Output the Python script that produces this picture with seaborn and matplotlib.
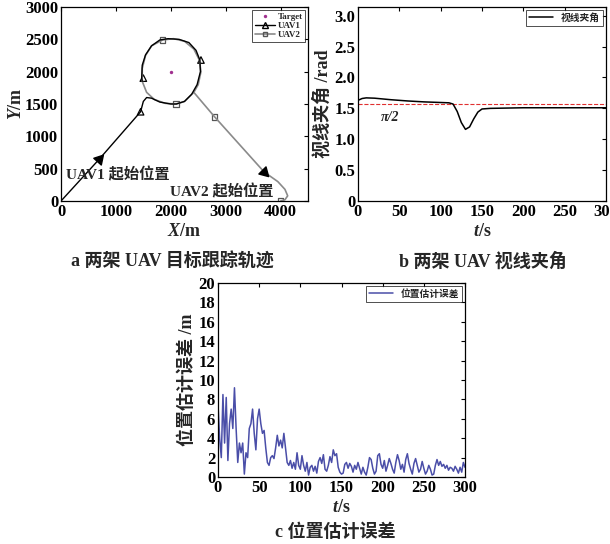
import numpy as np
import pandas as pd
import seaborn as sns
import matplotlib
matplotlib.use('Agg')
import matplotlib.pyplot as plt

# --- data ---
target_x = [2000]
target_y = [2000]

# UAV1 path (black), start at origin, orbit the target
uav1_x = [0, 700, 1450, 1500, 1560, 1650, 1800, 2000, 2100, 2250, 2380, 2480, 2540,
          2530, 2460, 2330, 2150, 1950, 1800, 1650, 1540, 1480, 1470, 1480]
uav1_y = [0, 650, 1380, 1540, 1600, 1590, 1530, 1500, 1500, 1540, 1650, 1800, 2000,
          2180, 2330, 2450, 2500, 2510, 2490, 2400, 2260, 2100, 1900, 1850]
uav1_mark_x = [1450, 1500, 2550]
uav1_mark_y = [1380, 1900, 2180]

# UAV2 path (grey), start at (4000, 0)
uav2_x = [4000, 4080, 4130, 4080, 3950, 3700, 2800, 2450, 2420, 2250, 2100, 1900, 1700,
          1560, 1480, 1480, 1540, 1650, 1850, 2050, 2250, 2420, 2520, 2550, 2500, 2420]
uav2_y = [0, 20, 80, 180, 300, 450, 1300, 1650, 1680, 1540, 1500, 1510, 1570,
          1680, 1850, 2050, 2250, 2400, 2490, 2510, 2470, 2350, 2180, 2000, 1800, 1680]
uav2_mark_x = [4000, 2800, 2100, 1850]
uav2_mark_y = [0, 1300, 1500, 2490]

# direction arrows on the approach legs
arrow_x = [700, 3700]
arrow_y = [650, 450]
arrow_angle = [-42, -135]

# line-of-sight angle between the two UAVs
t_los = [0, 5, 10, 20, 40, 60, 80, 100, 110, 115, 120, 125, 130, 135, 140, 145, 150,
         160, 200, 250, 300]
los = [1.63, 1.66, 1.67, 1.665, 1.64, 1.62, 1.605, 1.595, 1.59, 1.57, 1.45, 1.27, 1.16,
       1.20, 1.33, 1.44, 1.49, 1.50, 1.51, 1.51, 1.51]

# position estimate error, every 2 s
t_err = list(range(0, 301, 2))
err = [7.5, 4.0, 2.0, 8.5, 3.5, 8.2, 1.7, 5.5, 7.0, 5.0, 9.2, 5.0, 1.5, 3.5, 2.5, 3.5,
       0.3, 2.5, 2.0, 5.0, 5.5, 7.0, 4.5, 2.8, 6.0, 7.0, 5.5, 4.5, 4.8, 3.0, 1.5, 1.2,
       2.0, 2.2, 1.9, 3.0, 4.3, 3.2, 3.8, 3.0, 4.5, 3.0, 1.5, 1.2, 1.7, 0.9, 1.5, 0.8,
       2.5, 1.2, 0.8, 2.2, 1.2, 0.6, 1.5, 0.2, 1.0, 1.2, 0.6, 1.1, 0.4, 1.6, 2.0, 1.4,
       2.3, 0.8, 0.6, 1.2, 2.1, 1.5, 2.8, 2.2, 2.4, 1.0, 0.5, 0.3, 0.4, 1.3, 1.5, 0.9,
       1.4, 1.1, 0.5, 1.2, 0.8, 1.5, 0.9, 0.3, 1.0, 0.5, 0.2, 1.0, 2.0, 1.8, 0.9, 0.3,
       0.6, 2.2, 2.4, 1.3, 0.9, 1.7, 0.6, 1.2, 1.9, 1.4, 0.8, 0.4, 1.5, 2.3, 1.7, 0.8,
       1.3, 0.5, 1.8, 2.4, 1.4, 0.8, 0.3, 1.4, 1.9, 1.2, 0.5, 0.8, 1.6, 0.9, 0.3, 0.6,
       1.2, 0.8, 0.2, 0.3, 1.2, 1.8, 1.2, 1.6, 1.1, 1.3, 0.9, 1.2, 0.7, 1.0, 0.9, 0.6,
       1.1, 0.8, 0.4, 1.0, 0.5, 1.5, 1.0]

sns.set_style("white")
plt.rcParams['font.family'] = ['Liberation Serif', 'Noto Sans CJK SC']
plt.rcParams['font.weight'] = 'bold'
plt.rcParams['axes.labelweight'] = 'bold'
plt.rcParams['mathtext.fontset'] = 'custom'
plt.rcParams['mathtext.it'] = 'Liberation Serif:italic:bold'
plt.rcParams['mathtext.rm'] = 'Liberation Serif:bold'
plt.rcParams['axes.unicode_minus'] = False

W, H = 610, 544
fig = plt.figure(figsize=(W / 100, H / 100), dpi=100)

def box(l, t, r, b):
    return [l / W, (H - b) / H, (r - l) / W, (b - t) / H]

def style(ax):
    for s in ax.spines.values():
        s.set_color('black')
        s.set_linewidth(0.9)
        s.set_visible(True)
    ax.tick_params(direction='in', length=3, width=0.8, top=True, right=True,
                   labelsize=12, pad=2, colors='black')

# ---- a: trajectories ----
ax1 = fig.add_axes(box(61, 7, 308, 201))
sns.scatterplot(x=target_x, y=target_y, ax=ax1, color='#a0308f', s=6, marker='o',
                linewidth=0, label='Target')
sns.lineplot(x=uav2_x, y=uav2_y, ax=ax1, sort=False, estimator=None, color='#8a8a8a',
             lw=1.2)
sns.lineplot(x=uav1_x, y=uav1_y, ax=ax1, sort=False, estimator=None, color='black',
             lw=1.0)
sns.scatterplot(x=uav1_mark_x, y=uav1_mark_y, ax=ax1, marker='^', s=22,
                facecolor='none', edgecolor='black', linewidth=0.9)
sns.scatterplot(x=uav2_mark_x, y=uav2_mark_y, ax=ax1, marker='s', s=16,
                facecolor='none', edgecolor='#555555', linewidth=0.9)
for x, y, a in zip(arrow_x, arrow_y, arrow_angle):
    ax1.scatter([x], [y], marker=(3, 0, a), s=70, color='black', zorder=5)
ax1.plot([], [], color='black', lw=1.0, marker='^', ms=4, mfc='none', label='UAV1')
ax1.plot([], [], color='#8a8a8a', lw=1.2, marker='s', ms=3.5, mfc='none',
         mec='#555555', label='UAV2')
ax1.text(100, 400, 'UAV1 起始位置', fontsize=11, va='center')
ax1.text(1980, 140, 'UAV2 起始位置', fontsize=11, va='center')
ax1.set_xlim(0, 4500)
ax1.set_ylim(0, 3000)
ax1.set_xticks([0, 1000, 2000, 3000, 4000])
ax1.set_yticks([0, 500, 1000, 1500, 2000, 2500, 3000])
ax1.set_xlabel('$X$/m', fontsize=13, labelpad=2)
ax1.set_ylabel('$Y$/m', fontsize=13, labelpad=0)
style(ax1)
leg = ax1.legend(loc='upper right', fontsize=6.5, handlelength=2.2, borderpad=0.3,
                 labelspacing=0.1, fancybox=False, edgecolor='black',
                 borderaxespad=0.3, handletextpad=0.3)
leg.get_frame().set_linewidth(0.6)

# ---- b: line of sight angle ----
ax2 = fig.add_axes(box(358, 7, 606, 201))
ax2.axhline(np.pi / 2, color='#e03030', ls='--', lw=0.8)
sns.lineplot(x=t_los, y=los, ax=ax2, color='black', lw=1.1, label='视线夹角')
ax2.text(28, 1.35, 'π/2', fontsize=10, style='italic', va='center')
ax2.set_xlim(0, 300)
ax2.set_ylim(0, np.pi)
ax2.set_xticks([0, 50, 100, 150, 200, 250, 300])
ax2.set_yticks([0, 0.5, 1.0, 1.5, 2.0, 2.5, 3.0])
ax2.set_yticklabels(['0', '0.5', '1.0', '1.5', '2.0', '2.5', '3.0'])
ax2.set_xlabel('$t$/s', fontsize=13, labelpad=2)
ax2.set_ylabel('视线夹角 /rad', fontsize=13, labelpad=2)
style(ax2)
leg = ax2.legend(loc='upper right', fontsize=7, handlelength=2.5, borderpad=0.3,
                 fancybox=False, edgecolor='black', borderaxespad=0.3)
leg.get_frame().set_linewidth(0.6)

# ---- c: position estimate error ----
ax3 = fig.add_axes(box(218, 283, 465, 477))
sns.lineplot(x=t_err, y=err, ax=ax3, color='#4a4ea8', lw=1.1, label='位置估计误差')
ax3.set_xlim(0, 300)
ax3.set_ylim(0, 20)
ax3.set_xticks([0, 50, 100, 150, 200, 250, 300])
ax3.set_yticks(list(range(0, 21, 2)))
ax3.set_xlabel('$t$/s', fontsize=13, labelpad=2)
ax3.set_ylabel('位置估计误差 /m', fontsize=13, labelpad=2)
style(ax3)
leg = ax3.legend(loc='upper right', fontsize=7, handlelength=2.5, borderpad=0.3,
                 fancybox=False, edgecolor='black', borderaxespad=0.3)
leg.get_frame().set_linewidth(0.6)

# captions
fig.text(172 / W, 1 - 262 / H, 'a 两架 UAV 目标跟踪轨迹', fontsize=13, ha='center',
         va='center', fontweight='bold')
fig.text(483 / W, 1 - 262 / H, 'b 两架 UAV 视线夹角', fontsize=13, ha='center',
         va='center', fontweight='bold')
fig.text(335 / W, 1 - 532 / H, 'c 位置估计误差', fontsize=13, ha='center',
         va='center', fontweight='bold')

fig.savefig('out.png', dpi=100)
